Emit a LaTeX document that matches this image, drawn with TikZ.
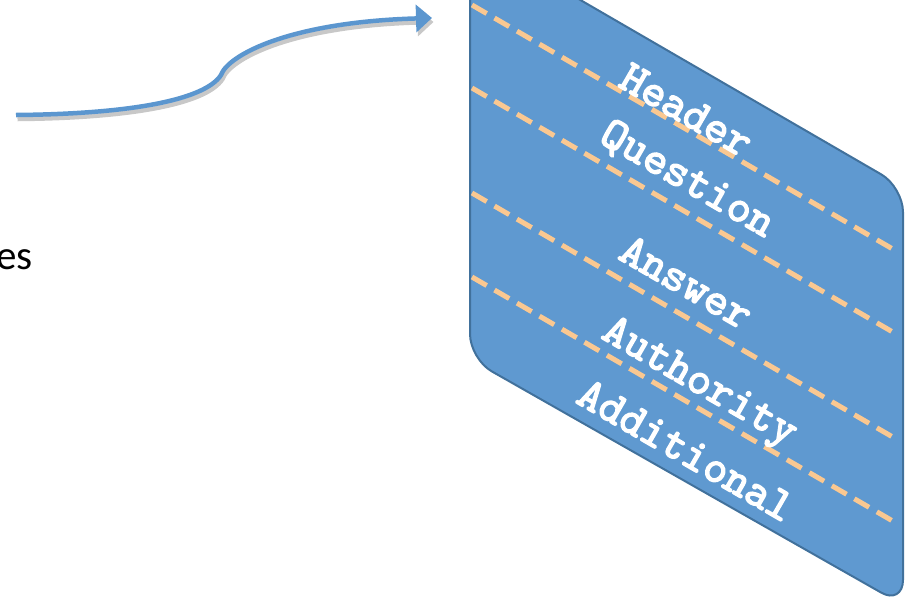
\documentclass[tikz,border=0pt]{standalone}
\usepackage{fontspec}
\setsansfont{Carlito}
\newfontfamily\fieldfont[FakeBold=3]{lmmono10-regular.otf}
\usepackage{tikz}
\usetikzlibrary{arrows.meta}
\definecolor{panel}{RGB}{95,153,208}
\definecolor{panelrim}{RGB}{65,113,156}
\definecolor{sepline}{RGB}{250,200,145}
\definecolor{flow}{RGB}{91,150,207}
\definecolor{flowshade}{RGB}{200,200,200}

\begin{document}
\begin{tikzpicture}[x=1pt,y=-1pt,
  field/.style={rotate=-30,text=white,inner sep=0pt,
    font=\fontsize{46}{46}\selectfont\fieldfont},
  sep/.style={draw=sepline,line width=5pt,dash pattern=on 17pt off 9pt},
  flowline/.style={line width=4.5pt,-{Triangle[length=16pt,width=27pt]}}]
\useasboundingbox (0,0) rectangle (905,598);
\clip (0,0) rectangle (905,598);
% message box
\draw[fill=panel,draw=panelrim,line width=2pt,rounded corners=25pt]
  (470,-64) -- (903,187) -- (903,605) -- (470,359) -- cycle;
\draw[sep] (472,5) -- (897,251.5);
\draw[sep] (472,88) -- (897,334.5);
\draw[sep] (472,193) -- (897,439.5);
\draw[sep] (472,277) -- (897,523.5);
\node[field] (hdr) at (686.5,110) {Header};
\node[field] (qst) at (687,180) {Question};
\node[field] (ans) at (686.5,282) {Answer};
\node[field] (aut) at (698.5,384) {Authority};
\node[field] (add) at (686,450) {Additional};
% text on the left
\node[font=\sffamily\fontsize{41}{41}\selectfont,inner sep=0pt,anchor=base east] (rest) at (33,269) {es};
% arrow towards the box
\coordinate (src) at (16,115);
\coordinate (bend) at (221,75);
\coordinate (dst) at (432,18);
\draw[flowline,draw=flowshade]
  ([shift={(1.5,4)}]src) .. controls (131.5,118) and (206.5,104) .. ([shift={(1.5,4)}]bend)
  .. controls (229.5,59) and (291.5,26) .. ([shift={(1.5,4)}]dst);
\draw[flowline,draw=flow]
  (src) .. controls (130,114) and (205,100) .. (bend)
  .. controls (228,55) and (290,22) .. (dst);
\end{tikzpicture}
\end{document}
